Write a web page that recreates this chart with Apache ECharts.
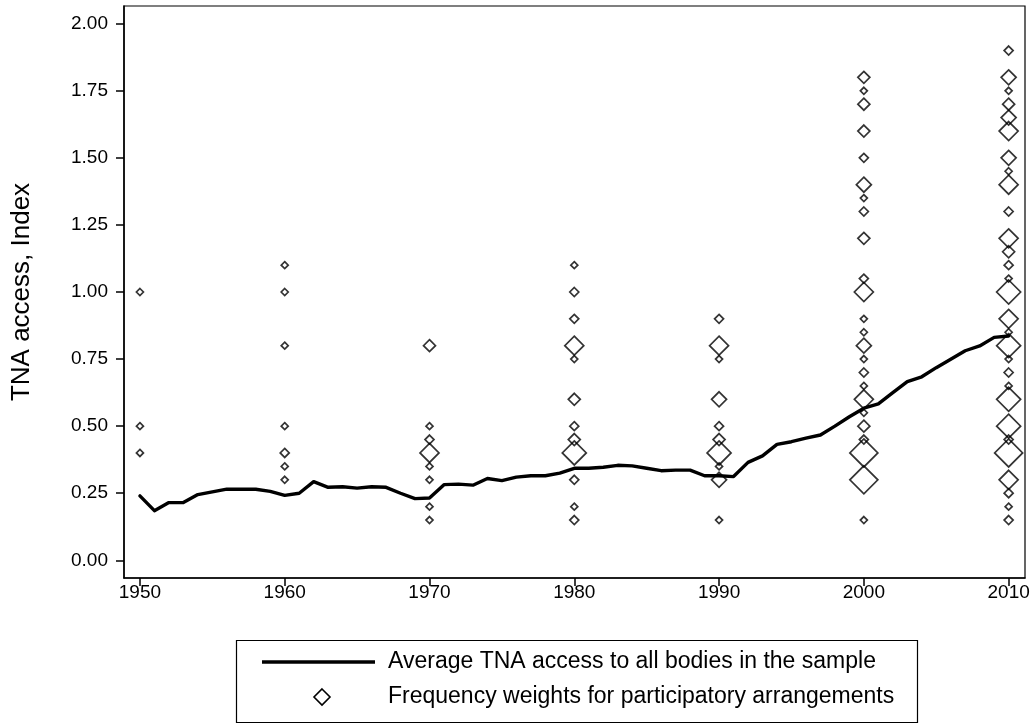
<!DOCTYPE html>
<html>
<head>
<meta charset="utf-8">
<title>TNA access</title>
<script src="https://cdn.jsdelivr.net/npm/echarts@6/dist/echarts.min.js"></script>
<style>
  html, body { margin: 0; padding: 0; background: #fff; }
  #chart { width: 1036px; height: 727px; }
</style>
</head>
<body>
<div id="chart"></div>
<script>
// average TNA access, one value per year from 1950
const firstYear = 1950
const avgAccess = [
  0.240, 0.185, 0.215, 0.215, 0.245, 0.255, 0.265, 0.265, 0.265, 0.257,
  0.242, 0.250, 0.293, 0.272, 0.274, 0.269, 0.274, 0.272, 0.250, 0.230,
  0.232, 0.282, 0.284, 0.280, 0.305, 0.297, 0.310, 0.315, 0.315, 0.325,
  0.343, 0.343, 0.347, 0.354, 0.352, 0.343, 0.334, 0.336, 0.336, 0.315,
  0.315, 0.312, 0.365, 0.389, 0.432, 0.442, 0.455, 0.467, 0.500, 0.535,
  0.567, 0.583, 0.625, 0.666, 0.684, 0.718, 0.749, 0.781, 0.799, 0.831,
  0.836
]

// participatory arrangements: index value and frequency weight per decade
const decades = [1950, 1960, 1970, 1980, 1990, 2000, 2010]
const arrValues = [
  [1.00, 0.50, 0.40],
  [1.10, 1.00, 0.80, 0.50, 0.40, 0.35, 0.30],
  [0.80, 0.50, 0.45, 0.40, 0.35, 0.30, 0.20, 0.15],
  [1.10, 1.00, 0.90, 0.80, 0.75, 0.60, 0.50, 0.45, 0.40, 0.30, 0.20, 0.15],
  [0.90, 0.80, 0.75, 0.60, 0.50, 0.45, 0.40, 0.35, 0.30, 0.15],
  [1.80, 1.75, 1.70, 1.60, 1.50, 1.40, 1.35, 1.30, 1.20, 1.05, 1.00,
   0.90, 0.85, 0.80, 0.75, 0.70, 0.65, 0.60, 0.55, 0.50, 0.45, 0.40, 0.30, 0.15],
  [1.90, 1.80, 1.75, 1.70, 1.65, 1.60, 1.50, 1.45, 1.40, 1.30, 1.20, 1.15, 1.10, 1.05, 1.00,
   0.90, 0.85, 0.80, 0.75, 0.70, 0.65, 0.60, 0.50, 0.45, 0.40, 0.30, 0.25, 0.20, 0.15]
]
const arrWeights = [
  [1, 1, 1],
  [1, 1, 1, 1, 2, 1, 1],
  [3, 1, 2, 5, 1, 1, 1, 1],
  [1, 2, 2, 5, 1, 3, 2, 3, 6, 2, 1, 2],
  [2, 5, 1, 4, 2, 3, 6, 1, 4, 1],
  [3, 1, 3, 3, 2, 4, 1, 2, 3, 2, 5,
   1, 1, 4, 1, 2, 1, 5, 1, 3, 2, 7, 7, 1],
  [2, 4, 1, 3, 4, 5, 4, 1, 5, 2, 5, 3, 2, 1, 6,
   5, 1, 6, 1, 2, 1, 6, 6, 2, 7, 5, 2, 1, 2]
]

const yTicks = [0, 0.25, 0.5, 0.75, 1, 1.25, 1.5, 1.75, 2]
const xTicks = [1950, 1960, 1970, 1980, 1990, 2000, 2010]

const lineName = 'Average TNA access to all bodies in the sample'
const scatterName = 'Frequency weights for participatory arrangements'

const font = "'Liberation Sans', Arial, Helvetica, sans-serif"
const sizeByWeight = [0, 7, 9, 12, 15, 19, 24, 28]

const lineData = avgAccess.map((v, i) => [firstYear + i, v])
const scatterData = []
decades.forEach((yr, i) => {
  arrValues[i].forEach((v, j) => {
    scatterData.push([yr, v, arrWeights[i][j]])
  })
})

const chart = echarts.init(document.getElementById('chart'), null, { renderer: 'canvas' })

const option = {
  backgroundColor: '#fff',
  animation: false,
  textStyle: { fontFamily: font, color: '#000' },
  grid: {
    left: 124,
    right: 11,
    top: 6,
    bottom: 149,
    outerBoundsMode: 'none',
    containLabel: false,
    show: true,
    borderColor: '#000',
    borderWidth: 1.2
  },
  xAxis: {
    type: 'value',
    min: 1948.9,
    max: 2011.13,
    splitLine: { show: false },
    axisLine: { show: true, onZero: false, lineStyle: { color: '#000', width: 1.5 } },
    axisTick: { show: true, length: 8, customValues: xTicks, lineStyle: { color: '#000', width: 1.5 } },
    axisLabel: {
      customValues: xTicks,
      margin: 5,
      fontSize: 19,
      color: '#000',
      fontFamily: font,
      formatter: v => String(v)
    }
  },
  yAxis: {
    type: 'value',
    min: -0.066,
    max: 2.066,
    name: 'TNA access, Index',
    nameLocation: 'middle',
    nameRotate: 90,
    nameGap: 89,
    nameTextStyle: { fontSize: 26, color: '#000', fontFamily: font },
    splitLine: { show: false },
    axisLine: { show: true, onZero: false, lineStyle: { color: '#000', width: 1.5 } },
    axisTick: { show: true, length: 8, customValues: yTicks, lineStyle: { color: '#000', width: 1.5 } },
    axisLabel: {
      customValues: yTicks,
      margin: 16,
      fontSize: 19,
      color: '#000',
      fontFamily: font,
      formatter: v => v.toFixed(2)
    }
  },
  series: [
    {
      name: lineName,
      type: 'line',
      data: lineData,
      symbol: 'none',
      lineStyle: { color: '#000', width: 3.4, join: 'round', cap: 'round' },
      z: 2
    },
    {
      name: scatterName,
      type: 'scatter',
      data: scatterData,
      symbol: 'diamond',
      symbolSize: d => sizeByWeight[d[2]],
      itemStyle: { color: 'rgba(255,255,255,0)', borderColor: '#000', borderWidth: 1.7 },
      z: 3
    }
  ],
  graphic: [
    {
      type: 'rect',
      shape: { x: 236.5, y: 640.5, width: 681, height: 82 },
      style: { fill: '#fff', stroke: '#000', lineWidth: 1.2 }
    },
    {
      type: 'line',
      shape: { x1: 262, y1: 662, x2: 375, y2: 662 },
      style: { stroke: '#000', lineWidth: 3.4 }
    },
    {
      type: 'polygon',
      shape: { points: [[322, 689], [330, 697], [322, 705], [314, 697]] },
      style: { fill: 'none', stroke: '#000', lineWidth: 1.6 }
    },
    {
      type: 'text',
      x: 388, y: 662,
      style: { text: lineName, font: '23px ' + font, fill: '#000', verticalAlign: 'middle' }
    },
    {
      type: 'text',
      x: 388, y: 697,
      style: { text: scatterName, font: '23px ' + font, fill: '#000', verticalAlign: 'middle' }
    }
  ]
}

chart.setOption(option)

const observer = new ResizeObserver(() => {
  chart.resize()
})
observer.observe(document.getElementById('chart'))
</script>
</body>
</html>
